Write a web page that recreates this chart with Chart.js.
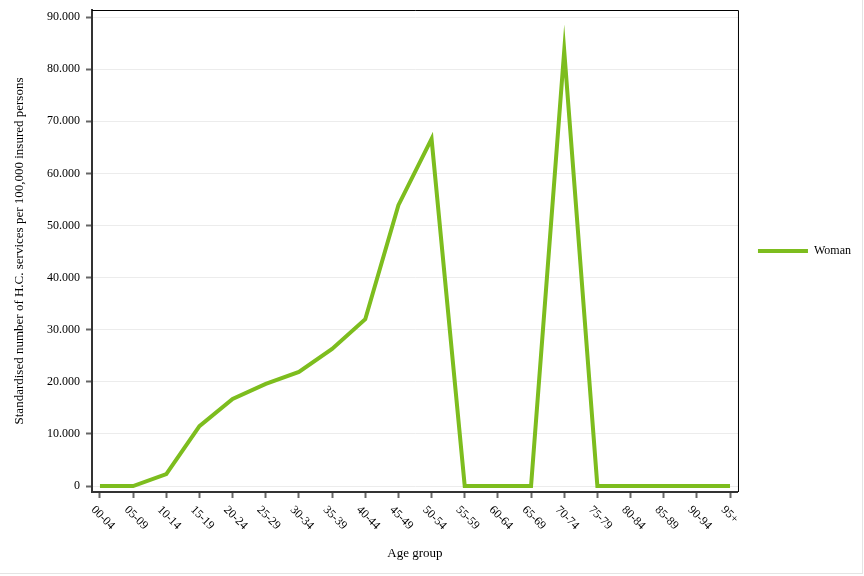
<!DOCTYPE html>
<html>
<head>
<meta charset="utf-8">
<script src="https://cdn.jsdelivr.net/npm/chart.js@4.4.1/dist/chart.umd.min.js"></script>
<style>
  html, body { margin: 0; padding: 0; background: #fff; }
  #wrap { position: relative; width: 864px; height: 576px; }
  #frame { position: absolute; left: 0; top: 0; width: 862px; height: 573px;
           border-right: 1px solid #e4e4e4; border-bottom: 1px solid #e4e4e4; pointer-events: none; }
</style>
</head>
<body>
<div id="wrap">
  <canvas id="c" width="864" height="576"></canvas>
  <div id="frame"></div>
</div>
<script>
const categories = ["00-04","05-09","10-14","15-19","20-24","25-29","30-34","35-39","40-44","45-49",
                    "50-54","55-59","60-64","65-69","70-74","75-79","80-84","85-89","90-94","95+"];
const womanValues = [0, 0, 2300, 11500, 16700, 19600, 21900, 26300, 32000, 53900,
                     66600, 0, 0, 0, 83500, 0, 0, 0, 0, 0];
const yTickValues = [0, 10000, 20000, 30000, 40000, 50000, 60000, 70000, 80000, 90000];
const seriesName = "Woman";
const xTitle = "Age group";
const yTitle = "Standardised number of H.C. services per 100,000 insured persons";

const SERIF = "'Liberation Serif', 'Times New Roman', serif";
const GREEN = '#7dbd1e';

function fmt(v) {
  return String(Math.round(v)).replace(/\B(?=(\d{3})+(?!\d))/g, '.');
}

const framePlugin = {
  id: 'framePlugin',
  beforeDatasetsDraw(chart) { chart.ctx.miterLimit = 40; },
  afterDatasetsDraw(chart) { chart.ctx.miterLimit = 10; },
  afterDraw(chart) {
    const {ctx, chartArea: a} = chart;
    ctx.save();
    ctx.strokeStyle = '#000';
    ctx.lineWidth = 1;
    ctx.beginPath();
    ctx.moveTo(a.left, a.top + 0.5);
    ctx.lineTo(a.right + 0.5, a.top + 0.5);
    ctx.lineTo(a.right + 0.5, a.bottom);
    ctx.stroke();
    // rotated category labels
    const xs = chart.scales.x;
    ctx.fillStyle = '#000';
    ctx.font = '12px ' + SERIF;
    ctx.textAlign = 'left';
    ctx.textBaseline = 'middle';
    categories.forEach((lab, i) => {
      const px = xs.getPixelForValue(i);
      ctx.save();
      ctx.translate(px - 7, xs.top + 16);
      ctx.rotate(Math.PI / 4);
      ctx.fillText(lab, 0, 0);
      ctx.restore();
    });
    ctx.restore();
  }
};

new Chart(document.getElementById('c'), {
  type: 'line',
  data: {
    datasets: [{
      label: seriesName,
      data: womanValues.map((v, i) => ({x: i, y: v})),
      borderColor: GREEN,
      backgroundColor: GREEN,
      borderWidth: 4,
      borderJoinStyle: 'miter',
      pointRadius: 0,
      pointHoverRadius: 0,
      tension: 0,
      fill: false
    }]
  },
  options: {
    responsive: false,
    animation: false,
    events: [],
    layout: { padding: { top: 10, right: 3, bottom: 0, left: 0 } },
    plugins: {
      tooltip: { enabled: false },
      legend: {
        position: 'right',
        fullSize: false,
        labels: {
          usePointStyle: true,
          pointStyle: 'line',
          pointStyleWidth: 50,
          padding: 20,
          color: '#000',
          font: { family: SERIF, size: 12 }
        }
      }
    },
    scales: {
      x: {
        type: 'linear',
        min: -0.24,
        max: categories.length - 1 + 0.24,
        afterBuildTicks: s => { s.ticks = categories.map((c, i) => ({value: i})); },
        afterFit: s => { s.height = 84; s.paddingLeft = 0; s.paddingRight = 0; },
        ticks: { display: false },
        grid: { drawOnChartArea: false, drawTicks: true, tickLength: 6, tickColor: '#666', tickWidth: 2 },
        border: { color: '#333', width: 2 },
        title: { display: true, text: xTitle, color: '#000', font: { family: SERIF, size: 13 }, padding: { top: 15, bottom: 15 } }
      },
      y: {
        min: -1150,
        max: 91350,
        afterBuildTicks: s => { s.ticks = yTickValues.map(v => ({value: v})); },
        afterFit: s => { s.width = 92; s.paddingTop = 0; s.paddingBottom = 0; },
        ticks: { color: '#000', font: { family: SERIF, size: 12 }, padding: 6, callback: v => fmt(v) },
        grid: { color: '#ececec', lineWidth: 1, drawTicks: true, tickLength: 6, tickColor: '#666', tickWidth: 2 },
        border: { color: '#333', width: 2 },
        title: { display: true, text: yTitle, color: '#000', font: { family: SERIF, size: 13 }, padding: { top: 12, bottom: 4 } }
      }
    }
  },
  plugins: [framePlugin]
});
</script>
</body>
</html>
